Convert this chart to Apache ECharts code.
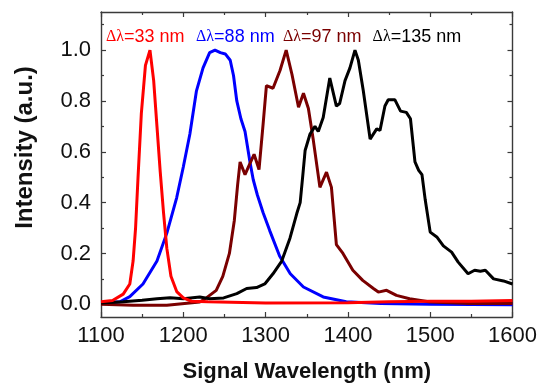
<!DOCTYPE html>
<html>
<head>
<meta charset="utf-8">
<script src="https://cdn.jsdelivr.net/npm/echarts@6/dist/echarts.min.js"></script>
<style>
  html, body { margin: 0; padding: 0; background: #fff; }
  #chart { width: 546px; height: 383px; }
</style>
</head>
<body>
<div id="chart"></div>
<script>
// spectra: wavelength (nm) / normalised intensity
const redNm = [1100, 1114, 1127, 1135, 1139, 1142, 1145, 1149, 1154, 1159.5, 1164, 1168, 1172, 1176, 1180, 1185, 1192, 1200, 1210, 1230, 1300, 1400, 1450, 1500, 1550, 1600];
const redVal = [0.01, 0.015, 0.04, 0.08, 0.17, 0.3, 0.5, 0.75, 0.94, 1.0, 0.88, 0.7, 0.52, 0.36, 0.22, 0.11, 0.05, 0.025, 0.012, 0.01, 0.005, 0.006, 0.01, 0.012, 0.012, 0.015];

const blueNm = [1100, 1123, 1135, 1151, 1168, 1180, 1192, 1200, 1208, 1216, 1224, 1232, 1238.5, 1245, 1251, 1257, 1261, 1265, 1270, 1275, 1281, 1285, 1290, 1297, 1305, 1317, 1330, 1346, 1370, 1398, 1440, 1500, 1600];
const blueVal = [0.005, 0.01, 0.03, 0.08, 0.17, 0.28, 0.42, 0.54, 0.67, 0.84, 0.93, 0.99, 1.0, 0.99, 0.985, 0.96, 0.9, 0.8, 0.73, 0.68, 0.56, 0.49, 0.43, 0.36, 0.29, 0.19, 0.12, 0.068, 0.029, 0.01, 0.003, 0.0, -0.002];

const maroonNm = [1100, 1139, 1180, 1220, 1228, 1240, 1248, 1256, 1262, 1266, 1269, 1275, 1279, 1286, 1292, 1297, 1301, 1309, 1317.5, 1325, 1332, 1340, 1346, 1352, 1358, 1366, 1374, 1380, 1386, 1394, 1406, 1418, 1431, 1437, 1447, 1459, 1475, 1500, 1548, 1600];
const maroonVal = [0.0, -0.004, -0.004, 0.009, 0.025, 0.055, 0.11, 0.2, 0.33, 0.47, 0.56, 0.51, 0.54, 0.59, 0.53, 0.71, 0.86, 0.85, 0.92, 1.0, 0.905, 0.775, 0.83, 0.77, 0.645, 0.46, 0.52, 0.46, 0.235, 0.2, 0.134, 0.094, 0.062, 0.048, 0.055, 0.035, 0.022, 0.009, 0.003, 0.003];

const blackNm = [1100, 1127, 1150, 1168, 1184, 1200, 1220, 1232, 1249, 1265, 1277, 1289, 1299, 1309, 1319.6, 1329.6, 1337.8, 1342, 1345, 1348, 1354, 1360, 1364, 1370, 1378, 1386, 1390, 1396.5, 1402.5, 1408.6, 1412.7, 1418.7, 1427, 1435, 1439, 1445, 1449, 1457, 1464, 1471, 1476, 1481.5, 1486, 1490, 1494, 1500, 1508, 1516, 1526, 1534, 1546, 1554, 1561, 1567, 1577, 1589, 1600];
const blackVal = [0.005, 0.01, 0.016, 0.022, 0.026, 0.022, 0.029, 0.022, 0.025, 0.042, 0.062, 0.066, 0.08, 0.12, 0.17, 0.26, 0.356, 0.4, 0.5, 0.605, 0.67, 0.7, 0.68, 0.735, 0.89, 0.78, 0.79, 0.88, 0.93, 1.0, 0.96, 0.84, 0.65, 0.69, 0.684, 0.78, 0.805, 0.805, 0.76, 0.755, 0.73, 0.56, 0.527, 0.51, 0.41, 0.284, 0.265, 0.23, 0.205, 0.166, 0.12, 0.134, 0.13, 0.134, 0.1, 0.092, 0.08];

// annotation text and where it starts (data coords)
const labelTexts = ['33 nm', '88 nm', '97 nm', '135 nm'];
const labelNm = [1106, 1215.5, 1321, 1430];
const labelY = 1.053;

const yMajor = [0, 0.2, 0.4, 0.6, 0.8, 1.0];
const yMinor = [0.1, 0.3, 0.5, 0.7, 0.9, 1.1];

const zip = (xs, ys) => xs.map((x, i) => [x, ys[i]]);

const frame = '#3a3a3a';
const tickFont = { color: '#111', fontSize: 22, fontFamily: 'Liberation Sans, Arial, sans-serif' };

function xAxis(pos, showLabel) {
  return {
    type: 'value', position: pos, min: 1100, max: 1600, interval: 100,
    axisLine: { show: true, onZero: false, lineStyle: { color: frame, width: 1.4 } },
    axisTick: { show: true, inside: true, length: 5, lineStyle: { color: frame, width: 1.2 } },
    minorTick: { show: true, splitNumber: 2, length: 3, lineStyle: { color: frame, width: 1.2 } },
    axisLabel: showLabel ? { ...tickFont, margin: 8, formatter: (v) => String(v) } : { show: false },
    splitLine: { show: false },
    name: showLabel ? 'Signal Wavelength (nm)' : '',
    nameLocation: 'middle', nameGap: 44,
    nameTextStyle: { color: '#111', fontSize: 22, fontWeight: 'bold', fontFamily: 'Liberation Sans, Arial, sans-serif' }
  };
}

function yAxis(pos, values, len, showLabel, named) {
  return {
    type: 'value', position: pos, min: -0.05, max: 1.15,
    axisLine: { show: len === 5, onZero: false, lineStyle: { color: frame, width: 1.4 } },
    axisTick: { show: true, inside: true, length: len, customValues: values, lineStyle: { color: frame, width: 1.2 } },
    axisLabel: showLabel
      ? { ...tickFont, margin: 10, customValues: values, formatter: (v) => v.toFixed(1) }
      : { show: false },
    splitLine: { show: false },
    name: named ? 'Intensity (a.u.)' : '',
    nameLocation: 'middle', nameGap: 64, nameRotate: 90,
    nameTextStyle: { color: '#111', fontSize: 24, fontWeight: 'bold', fontFamily: 'Liberation Sans, Arial, sans-serif', padding: [0, 0, 0, 34] }
  };
}

function line(name, nm, val, color, idx) {
  return {
    name, type: 'line', data: zip(nm, val), symbol: 'none', smooth: false,
    lineStyle: { color, width: 3 }, itemStyle: { color },
    animation: false,
    markPoint: {
      symbolSize: 0, silent: true,
      data: [{ coord: [labelNm[idx], labelY] }],
      label: {
        show: true, position: 'right', distance: 0,
        formatter: '{d|Δλ}{t|=' + labelTexts[idx] + '}',
        rich: {
          d: { color, fontSize: 16, fontFamily: 'Liberation Serif, serif' },
          t: { color, fontSize: 18, fontFamily: 'Liberation Sans, Arial, sans-serif' }
        }
      }
    }
  };
}

const chart = echarts.init(document.getElementById('chart'), null, { renderer: 'canvas' });
chart.setOption({
  backgroundColor: '#fff',
  animation: false,
  grid: { left: 101, right: 33.5, top: 12, bottom: 66, outerBoundsMode: 'none', containLabel: false },
  xAxis: [xAxis('bottom', true), xAxis('top', false)],
  yAxis: [
    yAxis('left', yMajor, 5, true, true),
    yAxis('right', yMajor, 5, false, false),
    yAxis('left', yMinor, 3, false, false),
    yAxis('right', yMinor, 3, false, false)
  ],
  series: [
    line('blue', blueNm, blueVal, '#0000ff', 1),
    line('maroon', maroonNm, maroonVal, '#7a0000', 2),
    line('black', blackNm, blackVal, '#000000', 3),
    line('red', redNm, redVal, '#ff0000', 0)
  ]
});
</script>
</body>
</html>
